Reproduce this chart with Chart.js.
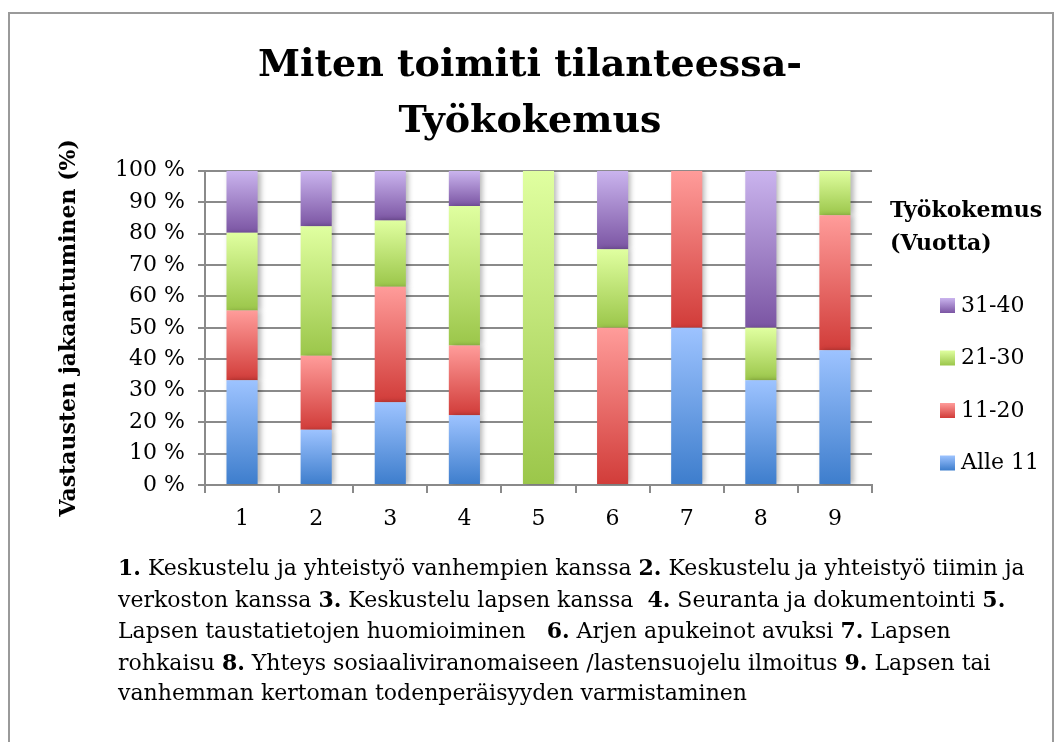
<!DOCTYPE html>
<html>
<head>
<meta charset="utf-8">
<script src="https://cdn.jsdelivr.net/npm/chart.js@4/dist/chart.umd.min.js"></script>
<style>
  body { margin: 0; background: #fff; }
  #wrap { position: relative; width: 1060px; height: 742px; overflow: hidden; }
  #frame { position: absolute; left: 8px; top: 12px; width: 1042px; height: 800px; border: 2px solid #9a9a9a; }
  #chart { position: absolute; left: 0; top: 0; }
  #note {
    position: absolute; left: 118px; top: 552px;
    font-family: "DejaVu Serif", serif; font-size: 22px; line-height: 30.5px;
    color: #000; white-space: pre;
  }
</style>
</head>
<body>
<div id="wrap">
  <div id="frame"></div>
  <canvas id="chart" width="1060" height="742"></canvas>
  <div id="note"><b>1.</b> Keskustelu ja yhteistyö vanhempien kanssa <b>2.</b> Keskustelu ja yhteistyö tiimin ja
verkoston kanssa <b>3.</b> Keskustelu lapsen kanssa  <b>4.</b> Seuranta ja dokumentointi <b>5.</b>
Lapsen taustatietojen huomioiminen   <b>6.</b> Arjen apukeinot avuksi <b>7.</b> Lapsen
rohkaisu <b>8.</b> Yhteys sosiaaliviranomaiseen /lastensuojelu ilmoitus <b>9.</b> Lapsen tai
vanhemman kertoman todenperäisyyden varmistaminen</div>
</div>
<script>
// kategoriat (toimintatavat 1-9)
const categories = ['1', '2', '3', '4', '5', '6', '7', '8', '9'];

// osuudet prosentteina, työkokemus vuosina
const alle11 = [33.3, 17.6, 26.3, 22.2, 0, 0, 50, 33.3, 42.9];
const v11_20 = [22.2, 23.5, 36.8, 22.2, 0, 50, 50, 0, 42.9];
const v21_30 = [24.8, 41.2, 21.1, 44.4, 100, 25, 0, 16.7, 14.3];
const v31_40 = [19.7, 17.6, 15.8, 11.1, 0, 25, 0, 50, 0];

const seriesLabels = ['Alle 11', '11-20', '21-30', '31-40'];
const yTicks = [0, 10, 20, 30, 40, 50, 60, 70, 80, 90, 100];

const allSeries = [alle11, v11_20, v21_30, v31_40];
// värit: vaalea ylhäällä, tumma alhaalla
const colors = [
  ['#9dc3ff', '#3d7dcc'],
  ['#ff9c9a', '#d13c39'],
  ['#e0ffa0', '#9bc64a'],
  ['#cab4ee', '#7b55a3']
];

const serif = '"DejaVu Serif", serif';

//liukuväri jokaiselle palalle erikseen
function segmentGradient(c) {
  const chart = c.chart;
  const col = colors[c.datasetIndex];
  if (!chart.chartArea || !chart.scales.y) return col[1];
  let base = 0;
  for (let k = 0; k < c.datasetIndex; k++) base += allSeries[k][c.dataIndex];
  const top = base + allSeries[c.datasetIndex][c.dataIndex];
  const y0 = chart.scales.y.getPixelForValue(top);
  const y1 = chart.scales.y.getPixelForValue(base);
  if (y1 - y0 < 1) return col[1];
  const g = chart.ctx.createLinearGradient(0, y0, 0, y1);
  g.addColorStop(0, col[0]);
  g.addColorStop(1, col[1]);
  return g;
}

//varjo pylväiden oikealle puolelle
const shadowPlugin = {
  id: 'shadow',
  beforeDatasetsDraw(chart) {
    const ctx = chart.ctx;
    ctx.save();
    ctx.shadowColor = 'rgba(0,0,0,0.28)';
    ctx.shadowBlur = 5;
    ctx.shadowOffsetX = 3;
    ctx.shadowOffsetY = 0;
  },
  afterDatasetsDraw(chart) {
    chart.ctx.restore();
  }
};

//oma selite oikealle
const legendPlugin = {
  id: 'ownLegend',
  afterDraw(chart) {
    const ctx = chart.ctx;
    ctx.save();
    ctx.fillStyle = '#000';
    ctx.textBaseline = 'alphabetic';
    ctx.textAlign = 'left';
    ctx.font = 'bold 22px ' + serif;
    ctx.fillText('Työkokemus', 890, 217);
    ctx.fillText('(Vuotta)', 890, 250);
    ctx.font = '22px ' + serif;
    ctx.textBaseline = 'middle';
    const ds = chart.data.datasets;
    for (let n = ds.length - 1, row = 0; n >= 0; n--, row++) {
      const cy = 305 + row * 52.5;
      const g = ctx.createLinearGradient(0, cy - 7, 0, cy + 8);
      g.addColorStop(0, colors[n][0]);
      g.addColorStop(1, colors[n][1]);
      ctx.fillStyle = g;
      ctx.fillRect(940, cy - 7, 15, 15);
      ctx.fillStyle = '#000';
      ctx.fillText(ds[n].label, 961, cy + 1);
    }
    ctx.restore();
  }
};

const datasets = allSeries.map(function (values, i) {
  return {
    label: seriesLabels[i],
    data: values,
    backgroundColor: segmentGradient,
    borderWidth: 0,
    barPercentage: 0.42,
    categoryPercentage: 1.0
  };
});

const chart = new Chart(document.getElementById('chart'), {
  type: 'bar',
  data: { labels: categories, datasets: datasets },
  plugins: [shadowPlugin, legendPlugin],
  options: {
    responsive: false,
    animation: false,
    devicePixelRatio: 1,
    layout: { padding: 0 },
    plugins: {
      legend: { display: false },
      tooltip: { enabled: false },
      title: {
        display: true,
        text: ['Miten toimiti tilanteessa-', 'Työkokemus'],
        color: '#000',
        font: { family: serif, size: 38, weight: 'bold', lineHeight: 1.47 },
        padding: { top: 38, bottom: 21 }
      }
    },
    scales: {
      x: {
        stacked: true,
        afterFit(scale) { scale.height = 257; },
        grid: {
          offset: true,
          drawOnChartArea: false,
          drawTicks: true,
          tickLength: 8,
          color: '#8a8a8a',
          lineWidth: 2
        },
        border: { display: true, color: '#8a8a8a', width: 2 },
        ticks: { color: '#000', font: { family: serif, size: 22 }, padding: 13 }
      },
      y: {
        stacked: true,
        min: 0,
        max: 100,
        afterFit(scale) { scale.width = 205; },
        afterBuildTicks(scale) { scale.ticks = yTicks.map(v => ({ value: v })); },
        grid: { color: '#8a8a8a', lineWidth: 2, tickLength: 7 },
        border: { color: '#8a8a8a', width: 2 },
        ticks: {
          color: '#000',
          font: { family: serif, size: 22 },
          padding: 13,
          callback: v => v + ' %'
        },
        title: {
          display: true,
          text: 'Vastausten jakaantuminen (%)',
          color: '#000',
          font: { family: serif, size: 22, weight: 'bold' },
          padding: { top: 56, bottom: 0 }
        }
      },
      // tyhjä tila selitteelle oikealla
      side: {
        position: 'right',
        display: true,
        afterFit(scale) { scale.width = 188; },
        grid: { display: false, drawOnChartArea: false },
        border: { display: false },
        ticks: { display: false }
      }
    }
  }
});
</script>
</body>
</html>
